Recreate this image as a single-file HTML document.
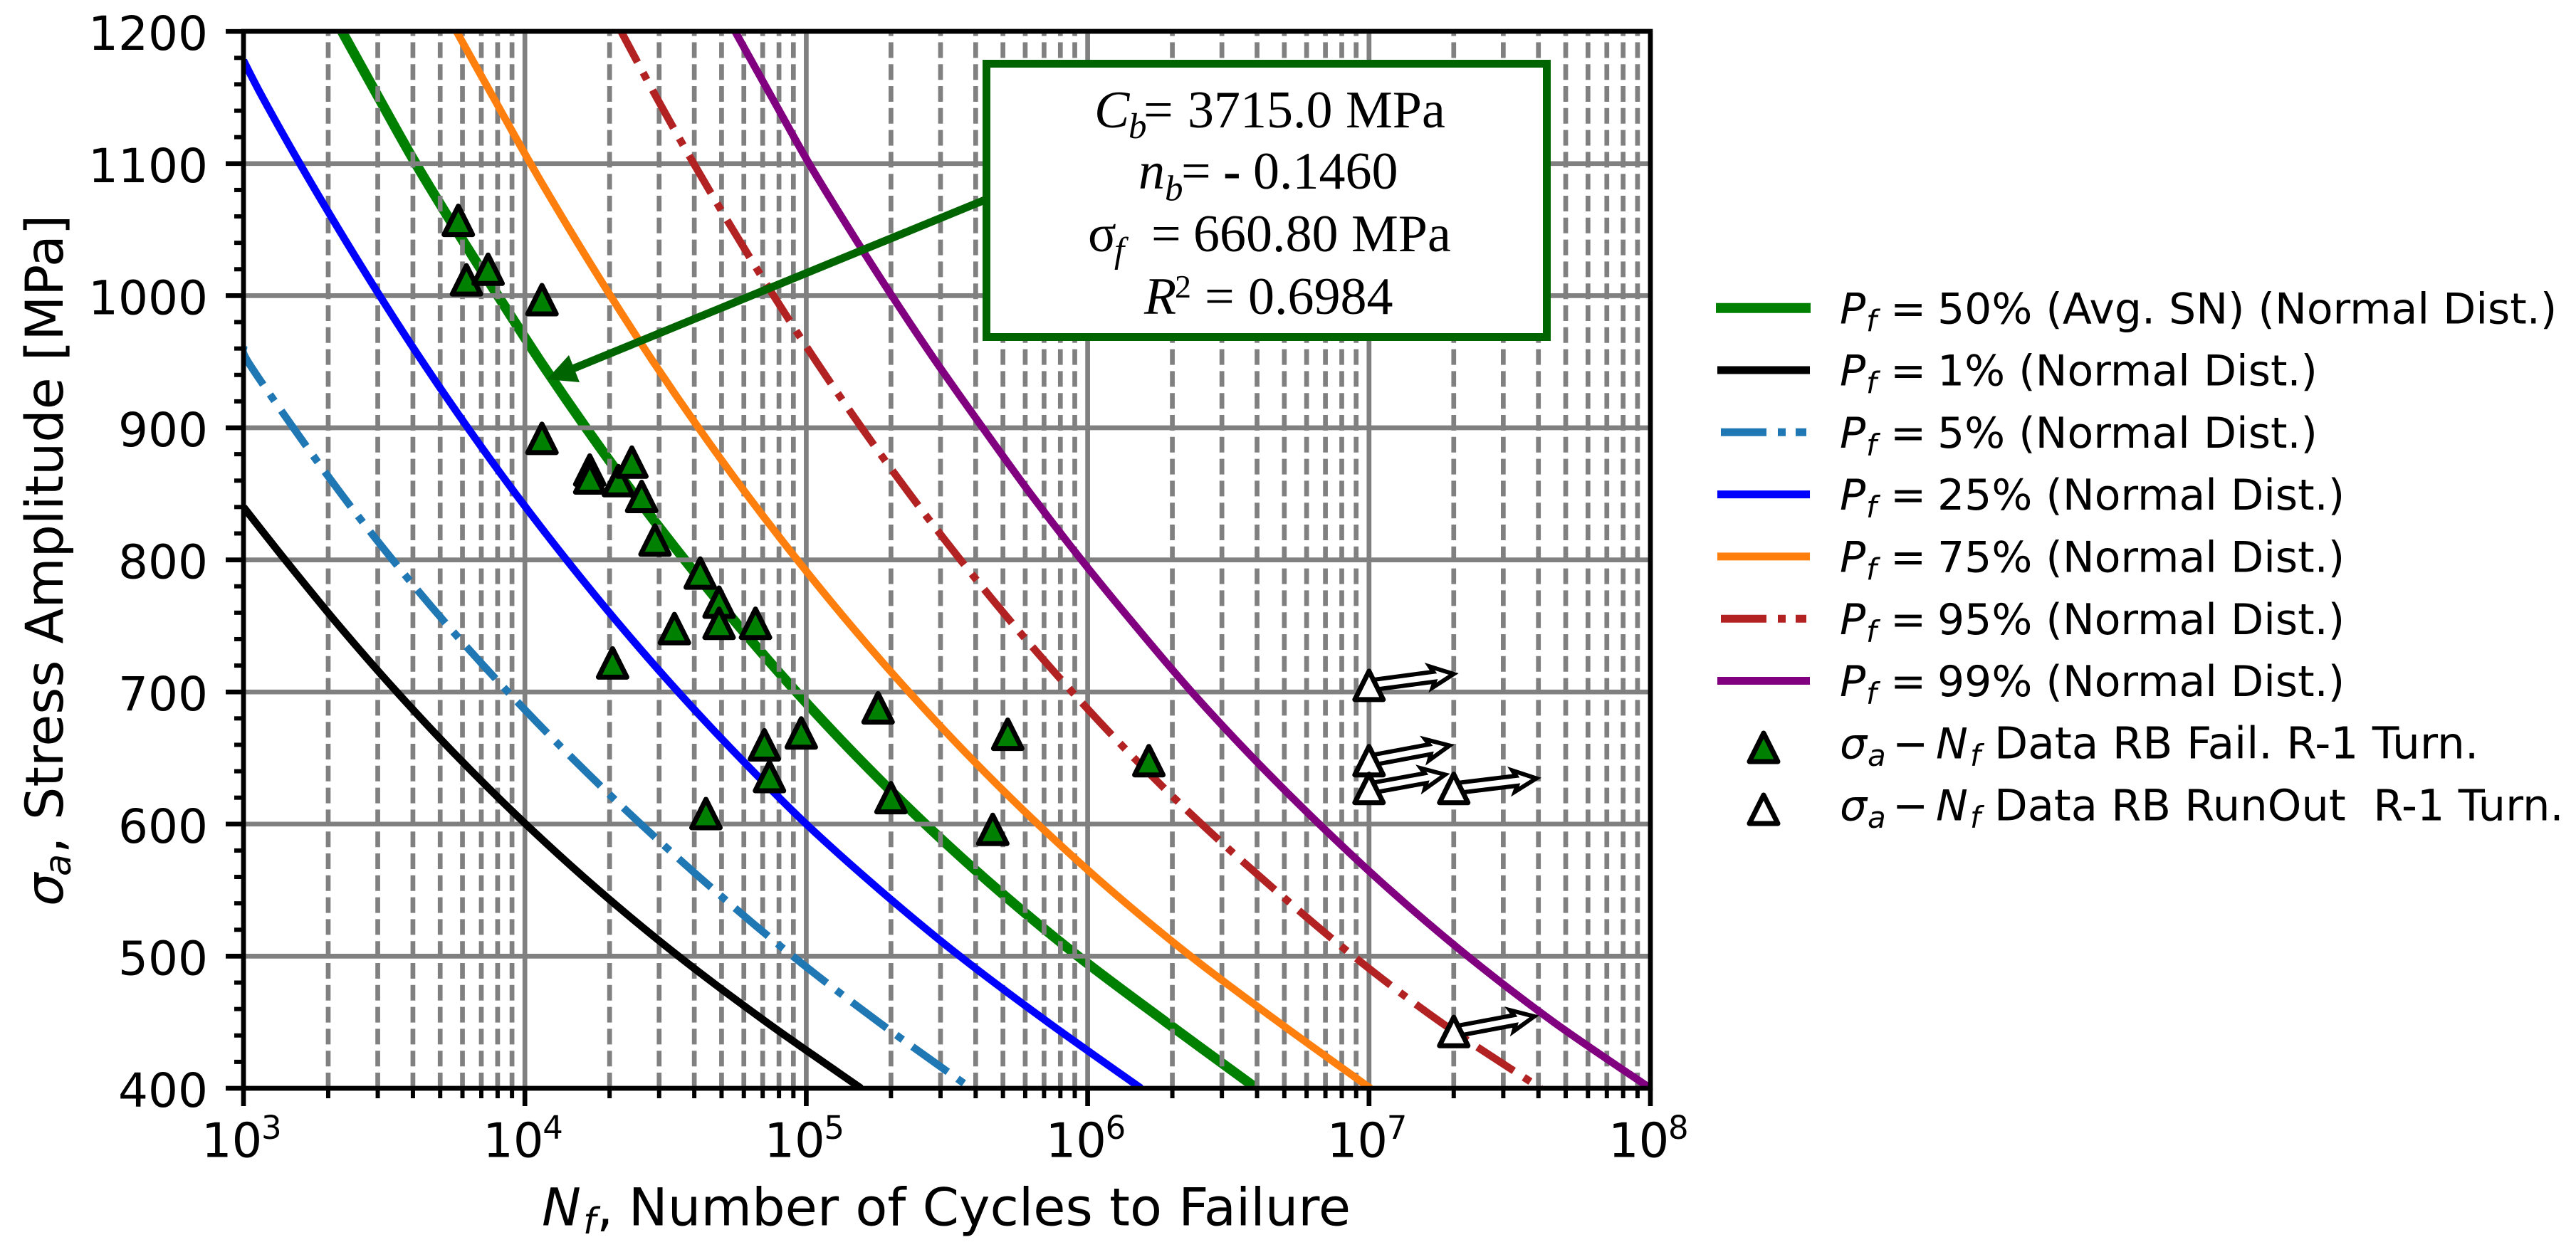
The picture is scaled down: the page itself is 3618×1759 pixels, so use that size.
<!DOCTYPE html>
<html lang="en">
<head>
<meta charset="utf-8">
<title>S-N Curve</title>
<style>
html,body{margin:0;padding:0;background:#fff;}
svg{display:block;}
text{font-family:"DejaVu Sans","Liberation Sans",sans-serif;fill:#000;}
.serif text,text.serif{font-family:"Liberation Serif",serif;}
.it{font-style:italic;}
</style>
</head>
<body>
<svg id="chart" xmlns="http://www.w3.org/2000/svg" width="3618" height="1759" viewBox="0 0 3618 1759">
  <defs><clipPath id="plot-clip"><rect x="342" y="44" width="1976" height="1485"/></clipPath></defs>
  <rect x="0" y="0" width="3618" height="1759" fill="#fff"/>
  <g id="layer-under" clip-path="url(#plot-clip)"></g>
  <g id="layer-grid"></g>
  <g id="layer-curves" clip-path="url(#plot-clip)"></g>
  <g id="layer-arrows"></g>
  <g id="layer-markers"></g>
  <g id="layer-axes"></g>

  <g transform="translate(88,1273) rotate(-90)" font-size="73">
    <text class="it" x="0" y="0">σ</text>
    <text class="it" x="42" y="11" font-size="51">a</text>
    <text x="74" y="0">,</text>
    <text x="121" y="0">Stress Amplitude [MPa]</text>
  </g>
  <g font-size="73.5">
    <text class="it" x="761" y="1721.7">N</text>
    <text class="it" x="819" y="1733" font-size="51">f</text>
    <text x="838" y="1721.7">,</text>
    <text x="882.8" y="1721.7">Number of Cycles to Failure</text>
  </g>

  <g>
    <line x1="1400" y1="274" x2="790" y2="524" stroke="#006400" stroke-width="11"/>
    <polygon points="768,533 799,499 814,537" fill="#006400"/>
  </g>
  <g>
    <rect x="1385.5" y="89.5" width="787" height="384" fill="#fff" stroke="#006400" stroke-width="11"/>
    <g class="serif" font-size="74">
      <text class="it serif" x="1537" y="179">C</text>
      <text class="it serif" x="1585" y="194" font-size="51">b</text>
      <text class="serif" x="1606" y="179">=</text>
      <text class="serif" x="1668" y="179">3715.0 MPa</text>
      <text class="it serif" x="1599" y="265">n</text>
      <text class="it serif" x="1636" y="281.7" font-size="51">b</text>
      <text class="serif" x="1659" y="265">=</text>
      <text class="serif" x="1718" y="265" font-weight="bold">-</text>
      <text class="serif" x="1760" y="265">0.1460</text>
      <text class="serif" x="1528" y="353">σ</text>
      <text class="it serif" x="1565" y="368" font-size="51">f</text>
      <text class="serif" x="1617" y="353">=</text>
      <text class="serif" x="1676" y="353">660.80 MPa</text>
      <text class="it serif" x="1607" y="441">R</text>
      <text class="serif" x="1650" y="418" font-size="46">2</text>
      <text class="serif" x="1692" y="441">=</text>
      <text class="serif" x="1753" y="441">0.6984</text>
    </g>
  </g>

  <g font-size="60">
    <g>
      <line x1="2410" x2="2543" y1="432.7" y2="432.7" stroke="#008000" stroke-width="14"/>
      <text class="it" x="2584" y="454.3">P</text><text class="it" x="2621" y="465.3" font-size="42">f</text><text x="2655" y="454.3">=</text><text x="2721" y="454.3">50% (Avg. SN) (Normal Dist.)</text>
    </g>
    <g>
      <line x1="2412" x2="2542" y1="520" y2="520" stroke="#000" stroke-width="11"/>
      <text class="it" x="2584" y="541.6">P</text><text class="it" x="2621" y="552.6" font-size="42">f</text><text x="2655" y="541.6">=</text><text x="2721" y="541.6">1% (Normal Dist.)</text>
    </g>
    <g>
      <line x1="2417" x2="2537" y1="607.3" y2="607.3" stroke="#1f77b4" stroke-width="11" stroke-dasharray="64 16 11 14 15"/>
      <text class="it" x="2584" y="628.9">P</text><text class="it" x="2621" y="639.9" font-size="42">f</text><text x="2655" y="628.9">=</text><text x="2721" y="628.9">5% (Normal Dist.)</text>
    </g>
    <g>
      <line x1="2412" x2="2542" y1="694.6" y2="694.6" stroke="#0000ff" stroke-width="11"/>
      <text class="it" x="2584" y="716.2">P</text><text class="it" x="2621" y="727.2" font-size="42">f</text><text x="2655" y="716.2">=</text><text x="2721" y="716.2">25% (Normal Dist.)</text>
    </g>
    <g>
      <line x1="2412" x2="2542" y1="781.9" y2="781.9" stroke="#ff7f0e" stroke-width="11"/>
      <text class="it" x="2584" y="803.5">P</text><text class="it" x="2621" y="814.5" font-size="42">f</text><text x="2655" y="803.5">=</text><text x="2721" y="803.5">75% (Normal Dist.)</text>
    </g>
    <g>
      <line x1="2417" x2="2537" y1="869.2" y2="869.2" stroke="#b22222" stroke-width="11" stroke-dasharray="64 16 11 14 15"/>
      <text class="it" x="2584" y="890.8">P</text><text class="it" x="2621" y="901.8" font-size="42">f</text><text x="2655" y="890.8">=</text><text x="2721" y="890.8">95% (Normal Dist.)</text>
    </g>
    <g>
      <line x1="2412" x2="2542" y1="956.5" y2="956.5" stroke="#800080" stroke-width="11"/>
      <text class="it" x="2584" y="978.1">P</text><text class="it" x="2621" y="989.1" font-size="42">f</text><text x="2655" y="978.1">=</text><text x="2721" y="978.1">99% (Normal Dist.)</text>
    </g>
    <g>
      <polygon points="2477,1030 2497,1070 2457,1070" fill="#008000" stroke="#000" stroke-width="7" stroke-linejoin="round"/>
      <text class="it" x="2584" y="1065.7">σ</text><text class="it" x="2623" y="1076" font-size="42">a</text><text x="2658" y="1065.7">−</text><text class="it" x="2719" y="1065.7">N</text><text class="it" x="2767" y="1076" font-size="42">f</text><text x="2801" y="1065.7" font-size="61.3">Data RB Fail. R-1 Turn.</text>
    </g>
    <g>
      <polygon points="2477,1117 2497,1157 2457,1157" fill="#fff" stroke="#000" stroke-width="7" stroke-linejoin="round"/>
      <text class="it" x="2584" y="1152.7">σ</text><text class="it" x="2623" y="1163" font-size="42">a</text><text x="2658" y="1152.7">−</text><text class="it" x="2719" y="1152.7">N</text><text class="it" x="2767" y="1163" font-size="42">f</text><text x="2801" y="1152.7" font-size="60.7" xml:space="preserve">Data RB RunOut  R-1 Turn.</text>
    </g>
  </g>
</svg>
<script>
// Tick values
var yMajorTicks = [400, 500, 600, 700, 800, 900, 1000, 1100, 1200];
var yMinorTicks = [420,440,460,480,520,540,560,580,620,640,660,680,720,740,760,780,820,840,860,880,920,940,960,980,1020,1040,1060,1080,1120,1140,1160,1180];
var xDecadeExponents = [3, 4, 5, 6, 7, 8];
var xMinorMultipliers = [2, 3, 4, 5, 6, 7, 8, 9];

// Curves: stress amplitude (MPa) and log10(cycles)
var stressP50 = [1200,1150,1100,1050,1000,950,900,850,800,750,700,650,600,550,500,450,400];
var logNP50 = [3.350,3.480,3.612,3.755,3.904,4.056,4.217,4.387,4.568,4.760,4.965,5.185,5.423,5.682,5.966,6.279,6.600];
var stressP1 = [840,800,750,700,650,600,550,500,450,400];
var logNP1 = [3.000,3.148,3.340,3.545,3.765,4.003,4.262,4.546,4.859,5.195];
var stressP5 = [961,950,900,850,800,750,700,650,600,550,500,450,400];
var logNP5 = [3.000,3.016,3.177,3.347,3.530,3.727,3.940,4.168,4.412,4.673,4.952,5.258,5.585];
var stressP25 = [1178,1150,1100,1050,1000,950,900,850,800,750,700,650,600,550,500,450,400];
var logNP25 = [3.000,3.068,3.200,3.339,3.484,3.636,3.797,3.967,4.148,4.340,4.545,4.765,5.000,5.262,5.546,5.859,6.190];
var stressP75 = [1200,1150,1100,1050,1000,950,900,850,800,750,700,650,600,550,500,450,400];
var logNP75 = [3.757,3.888,4.020,4.159,4.304,4.456,4.617,4.787,4.968,5.160,5.365,5.585,5.823,6.082,6.366,6.679,7.005];
var stressP95 = [1200,1150,1100,1050,1000,950,900,850,800,750,700,650,600,550,500,450,400];
var logNP95 = [4.342,4.468,4.600,4.739,4.884,5.036,5.197,5.367,5.548,5.740,5.945,6.165,6.405,6.667,6.945,7.255,7.610];
var stressP99 = [1200,1150,1100,1050,1000,950,900,850,800,750,700,650,600,550,500,450,400];
var logNP99 = [4.747,4.878,5.010,5.154,5.304,5.461,5.627,5.797,5.978,6.170,6.370,6.588,6.823,7.075,7.351,7.657,8.000];

// Failure data
var failCycles = [5800,6200,7400,11500,11500,17000,17000,21500,24000,26000,29000,42000,49000,49000,66000,34000,20500,71000,74000,96000,180000,200000,44000,460000,520000,1650000];
var failStress = [1057,1012,1020,997,892,868,862,860,874,848,815,790,768,752,752,748,722,660,636,669,688,620,608,596,668,648];

// Run-out data and arrow tips
var runoutCycles = [10000000,10000000,10000000,20000000,20000000];
var runoutStress = [705,648,627,627,443];
var arrowTipCycles = [20700000,20000000,19300000,40700000,40000000];
var arrowTipStress = [714,660,638,635,455];

var X0 = 342, DECADE = 395.2, YB = 1529, PPU = 1.856, YT = 44, X1 = 2318;
function xFromLog(l){ return X0 + (l - 3) * DECADE; }
function xScale(n){ return xFromLog(Math.log10(n)); }
function yScale(s){ return YB - (s - 400) * PPU; }

var SVGNS = 'http://www.w3.org/2000/svg';
function make(tag, attrs, parent){
  var el = document.createElementNS(SVGNS, tag);
  for (var k in attrs) el.setAttribute(k, attrs[k]);
  parent.appendChild(el);
  return el;
}
function smoothPath(stress, logN){
  var pts = stress.map(function(s, i){ return [xFromLog(logN[i]), yScale(s)]; });
  var d = 'M' + pts[0][0].toFixed(2) + ' ' + pts[0][1].toFixed(2);
  for (var i = 0; i < pts.length - 1; i++){
    var p0 = pts[Math.max(i - 1, 0)], p1 = pts[i], p2 = pts[i + 1], p3 = pts[Math.min(i + 2, pts.length - 1)];
    var c1x = p1[0] + (p2[0] - p0[0]) / 6, c1y = p1[1] + (p2[1] - p0[1]) / 6;
    var c2x = p2[0] - (p3[0] - p1[0]) / 6, c2y = p2[1] - (p3[1] - p1[1]) / 6;
    d += 'C' + c1x.toFixed(2) + ' ' + c1y.toFixed(2) + ' ' + c2x.toFixed(2) + ' ' + c2y.toFixed(2) + ' ' + p2[0].toFixed(2) + ' ' + p2[1].toFixed(2);
  }
  return d;
}

var under = document.getElementById('layer-under');
var gridL = document.getElementById('layer-grid');
var curves = document.getElementById('layer-curves');
var arrowsL = document.getElementById('layer-arrows');
var markersL = document.getElementById('layer-markers');
var axesL = document.getElementById('layer-axes');

// Grid
yMajorTicks.forEach(function(s){
  var el = make('line', {x1: X0, x2: X1, y1: yScale(s), y2: yScale(s), stroke: '#808080', 'stroke-width': 6.7}, gridL);
  
  
});
xDecadeExponents.forEach(function(e){
  var x = xFromLog(e);
  var el = make('line', {x1: x, x2: x, y1: YB, y2: YT, stroke: '#808080', 'stroke-width': 6.7}, gridL);
  
  
  if (e < 8) xMinorMultipliers.forEach(function(m){
    var xm = xScale(m * Math.pow(10, e));
    var g = make('line', {x1: xm, x2: xm, y1: YB, y2: YT, stroke: '#808080', 'stroke-width': 6.7, 'stroke-dasharray': '22 8.8'}, gridL);
    
    
  });
});

// Curves
var elP50 = make('path', {d: smoothPath(stressP50, logNP50), fill: 'none', stroke: '#008000', 'stroke-width': 14}, under);


var elP1 = make('path', {d: smoothPath(stressP1, logNP1), fill: 'none', stroke: '#000', 'stroke-width': 10.5}, curves);


var elP5 = make('path', {d: smoothPath(stressP5, logNP5), fill: 'none', stroke: '#1f77b4', 'stroke-width': 10.5, 'stroke-dasharray': '61 16.7 11 16.7'}, curves);


var elP25 = make('path', {d: smoothPath(stressP25, logNP25), fill: 'none', stroke: '#0000ff', 'stroke-width': 10.5}, curves);


var elP75 = make('path', {d: smoothPath(stressP75, logNP75), fill: 'none', stroke: '#ff7f0e', 'stroke-width': 10.5}, curves);


var elP95 = make('path', {d: smoothPath(stressP95, logNP95), fill: 'none', stroke: '#b22222', 'stroke-width': 10.5, 'stroke-dasharray': '61 16.7 11 16.7', 'stroke-dashoffset': 12}, curves);


var elP99 = make('path', {d: smoothPath(stressP99, logNP99), fill: 'none', stroke: '#800080', 'stroke-width': 10.5}, curves);



// Markers
function triPoints(cx, cy){
  return (cx) + ',' + (cy - 20) + ' ' + (cx + 20) + ',' + (cy + 20) + ' ' + (cx - 20) + ',' + (cy + 20);
}
failCycles.forEach(function(n, i){
  var m = make('polygon', {points: triPoints(xScale(n), yScale(failStress[i])), fill: '#008000', stroke: '#000', 'stroke-width': 7, 'stroke-linejoin': 'round'}, markersL);
  
  
});

// Run-out arrows and markers
runoutCycles.forEach(function(n, i){
  var x0 = xScale(n), y0 = yScale(runoutStress[i]);
  var x1 = xScale(arrowTipCycles[i]), y1 = yScale(arrowTipStress[i]);
  var dx = x1 - x0, dy = y1 - y0, len = Math.sqrt(dx * dx + dy * dy);
  var ux = dx / len, uy = dy / len, nx = -uy, ny = ux;
  var tipBack = 6, headLen = 28, hw = 7, headW = 15;
  function P(a, b){ return (x0 + ux * a + nx * b).toFixed(1) + ',' + (y0 + uy * a + ny * b).toFixed(1); }
  var L = len - tipBack;
  var pts = [P(0, -hw), P(L - headLen, -hw), P(L - headLen - 4, -headW), P(L, 0), P(L - headLen - 4, headW), P(L - headLen, hw), P(0, hw)].join(' ');
  var a = make('polygon', {points: pts, fill: '#fff', stroke: '#000', 'stroke-width': 6, 'stroke-linejoin': 'miter', 'stroke-miterlimit': 10}, arrowsL);
  
  
  var m = make('polygon', {points: triPoints(x0, y0), fill: '#fff', stroke: '#000', 'stroke-width': 7, 'stroke-linejoin': 'round'}, markersL);
  
  
});

// Axes
var spine = make('rect', {x: X0, y: YT, width: X1 - X0, height: YB - YT, fill: 'none', stroke: '#000', 'stroke-width': 6.7}, axesL);


yMajorTicks.forEach(function(s){
  var y = yScale(s);
  var t = make('line', {x1: X0 - 25, x2: X0, y1: y, y2: y, stroke: '#000', 'stroke-width': 6.7}, axesL);
  
  
  var l = make('text', {x: 292, y: y + 26, 'text-anchor': 'end', 'font-size': 66}, axesL);
  
  
  l.textContent = String(s);
});
yMinorTicks.forEach(function(s){
  var y = yScale(s);
  var t = make('line', {x1: X0 - 13, x2: X0, y1: y, y2: y, stroke: '#000', 'stroke-width': 6}, axesL);
  
  
});
xDecadeExponents.forEach(function(e){
  var x = xFromLog(e);
  var t = make('line', {x1: x, x2: x, y1: YB, y2: YB + 25, stroke: '#000', 'stroke-width': 6.7}, axesL);
  
  
  var base = make('text', {x: x - 59, y: 1625.7, 'font-size': 67}, axesL);
  
  
  base.textContent = '10';
  var sup = make('text', {x: x + 25, y: 1600, 'font-size': 45}, axesL);
  
  
  sup.textContent = String(e);
  if (e < 8) xMinorMultipliers.forEach(function(m){
    var xm = xScale(m * Math.pow(10, e));
    var tm = make('line', {x1: xm, x2: xm, y1: YB, y2: YB + 14, stroke: '#000', 'stroke-width': 6}, axesL);
    
    
  });
});
</script>
</body>
</html>
